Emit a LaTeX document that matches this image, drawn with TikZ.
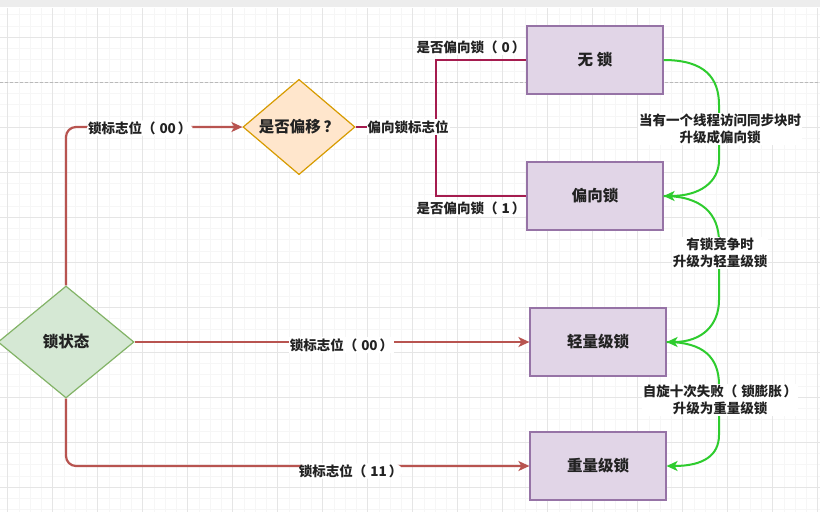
\documentclass[tikz,border=0pt]{standalone}
\usepackage{fontspec}
\setmainfont{Noto Sans CJK SC}
\usetikzlibrary{arrows.meta,shapes.geometric}
\definecolor{boxfill}{HTML}{E1D5E7}
\definecolor{boxdraw}{HTML}{9673A6}
\definecolor{orfill}{HTML}{FFE6CC}
\definecolor{ordraw}{HTML}{D79B00}
\definecolor{grfill}{HTML}{D5E8D4}
\definecolor{grdraw}{HTML}{82B366}
\definecolor{redln}{HTML}{B85450}
\definecolor{crimln}{HTML}{A51C4F}
\definecolor{grn}{HTML}{2ECC2E}
\definecolor{txt}{HTML}{222222}
\newcommand{\lp}{（\kern4pt}
\newcommand{\rp}{\kern2pt）}
\begin{document}
\begin{tikzpicture}[x=1pt,y=-1pt,
  stbox/.style={rectangle, draw=boxdraw, fill=boxfill, line width=1.2pt,
    minimum width=136pt, minimum height=68pt, inner sep=0pt,
    font=\fontsize{15.5}{18}\selectfont\bfseries, text=txt},
  diam/.style={diamond, line width=1.2pt, inner sep=0pt, aspect=1,
    font=\fontsize{15.5}{18}\selectfont\bfseries, text=txt},
  lbl/.style={fill=white, inner sep=1pt, text=txt,
    font=\fontsize{13.5}{17}\selectfont\bfseries},
  redarr/.style={draw=redln, line width=2.2pt,
    -{Stealth[length=11pt,width=10pt,inset=3pt]}},
  crimline/.style={draw=crimln, line width=2.2pt},
  grnarr/.style={draw=grn, line width=2pt,
    -{Stealth[length=11pt,width=10pt,inset=3pt]}},
  gridminor/.style={draw=gray!7, line width=0.5pt},
  gridmajor/.style={draw=gray!20, line width=0.6pt}
]
\useasboundingbox (0,0) rectangle (820,523);
\fill[white] (0,0) rectangle (820,523);
\fill[gray!14] (0,0) rectangle (820,7);
\begin{scope}
  \clip (0,8) rectangle (820,512);
  \foreach \k in {0,...,72} \draw[gridminor] ({7.7+11.25*\k},8) -- ({7.7+11.25*\k},512);
  \foreach \k in {-2,...,42} \draw[gridminor] (0,{37+11.25*\k}) -- (820,{37+11.25*\k});
  \foreach \k in {0,...,18} \draw[gridmajor] ({7.7+45*\k},8) -- ({7.7+45*\k},512);
  \foreach \k in {0,...,10} \draw[gridmajor] (0,{37+45*\k}) -- (820,{37+45*\k});
\end{scope}
\draw[gray!55, line width=0.8pt, dash pattern=on 3pt off 2pt] (0,82) -- (820,82);

% nodes
\node[diam, fill=grfill, draw=grdraw, minimum width=136pt, minimum height=112pt] (s) at (66,342) {锁状态};
\node[diam, fill=orfill, draw=ordraw, minimum width=112pt, minimum height=89pt] (d) at (299,127) {是否偏移\kern3pt？};
\node[stbox] (n0) at (595,60) {无 锁};
\node[stbox] (n1) at (595,196) {偏向锁};
\node[stbox] (n2) at (598,342) {轻量级锁};
\node[stbox] (n3) at (598,466) {重量级锁};

% red connectors
\draw[redarr, rounded corners=10pt] (s.north) |- (d.west)
  node[lbl, pos=0.709, yshift=-1pt] {锁标志位\lp 00\rp};
\draw[redarr] (s.east) -- (n2.west)
  node[lbl, pos=0.524, yshift=-3pt] {锁标志位\lp 00\rp};
\draw[redarr, rounded corners=10pt] (s.south) |- (n3.west)
  node[lbl, pos=0.807, yshift=-5pt] {锁标志位\lp 11\rp};

% crimson connectors
\coordinate (j) at (436,127);
\draw[crimline] (d.east) -- (j) |- (n0.west);
\draw[crimline] (j) |- (n1.west);
\node[lbl] (l2) at (408,127) {偏向锁标志位};
\node[lbl] (l3) at (471,47) {是否偏向锁\lp 0\rp};
\node[lbl] (l4) at (471,208) {是否偏向锁\lp 1\rp};

% green connectors
\draw[grnarr] (n0.east) .. controls (705,60) and (719,78) .. (719,105) -- (719,160)
  .. controls (719,182) and (700,196) .. (n1.east);
\draw[grnarr] (n1.east) .. controls (702,196) and (719,214) .. (719,242) -- (719,300)
  .. controls (719,325) and (702,342) .. (n2.east);
\draw[grnarr] (n2.east) .. controls (704,342) and (719,358) .. (719,385) -- (719,435)
  .. controls (719,455) and (704,466) .. (n3.east);
\node[lbl, align=center] (g1) at (720,129) {当有一个线程访问同步块时\\升级成偏向锁};
\node[lbl, align=center] (g2) at (720,253) {有锁竞争时\\升级为轻量级锁};
\node[lbl, align=center] (g3) at (720,400) {自旋十次失败\lp 锁膨胀\rp\\升级为重量级锁};
\end{tikzpicture}
\end{document}
